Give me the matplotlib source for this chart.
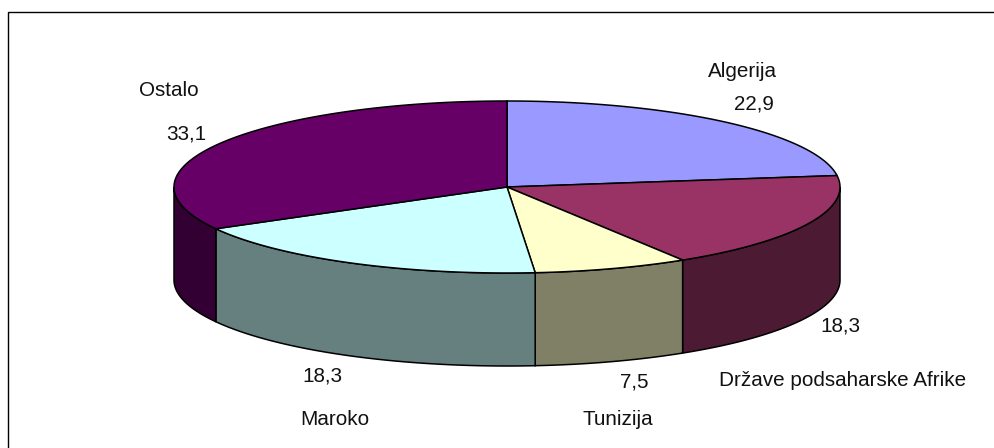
import numpy as np
import matplotlib
matplotlib.use("Agg")
import matplotlib.pyplot as plt
from matplotlib.patches import Polygon

plt.rcParams["font.family"] = ["Liberation Sans", "DejaVu Sans"]

labels = ["Algerija", "Države podsaharske Afrike", "Tunizija", "Maroko", "Ostalo"]
values = [22.9, 18.3, 7.5, 18.3, 33.1]
value_text = ["22,9", "18,3", "7,5", "18,3", "33,1"]
top_colors = ["#9999FF", "#993366", "#FFFFCC", "#CCFFFF", "#660066"]
side_colors = ["#5C5C99", "#4D1A33", "#808066", "#668080", "#330033"]

# pie geometry in image pixels
cx, cy = 507, 187
rx, ry = 333, 86
depth = 93


def rim(a0, a1, dy=0):
    # a is clockwise from 12 o'clock
    a = np.radians(np.linspace(a0, a1, 200))
    return np.column_stack([cx + rx * np.sin(a), cy - ry * np.cos(a) + dy])


fig = plt.figure(figsize=(9.94, 4.48), dpi=100)
ax = fig.add_axes([0, 0, 1, 1])
ax.set_xlim(0, 994)
ax.set_ylim(448, 0)
ax.axis("off")

# chart border is cut off by the image on the right and at the bottom
ax.plot([8, 8, 994], [448, 12.5, 12.5], color="black", lw=1.0, solid_joinstyle="miter")

edges = np.cumsum([0] + values) / sum(values) * 360

# side walls, only the front half of the rim is visible
for i in range(len(values)):
    a0 = max(edges[i], 90)
    a1 = min(edges[i + 1], 270)
    if a1 <= a0:
        continue
    front = rim(a0, a1)
    back = rim(a1, a0, depth)
    ax.add_patch(Polygon(np.vstack([front, back]), closed=True, fc=side_colors[i], ec="black", lw=1.1, zorder=2))

# top faces
for i in range(len(values)):
    pts = np.vstack([[[cx, cy]], rim(edges[i], edges[i + 1])])
    ax.add_patch(Polygon(pts, closed=True, fc=top_colors[i], ec="black", lw=1.1, zorder=3))

# label anchors: horizontal centre, baseline
name_pos = [(742, 77), (843, 386), (618, 425), (335, 425), (169, 96)]
value_pos = [(754, 109), (840, 332), (634, 388), (322, 382), (186, 139)]
for i in range(len(values)):
    ax.text(*name_pos[i], labels[i], ha="center", va="baseline", fontsize=14.9, color="#111111", zorder=4)
    ax.text(*value_pos[i], value_text[i], ha="center", va="baseline", fontsize=14.9, color="#111111", zorder=4)

fig.savefig("out.png", dpi=100, facecolor="white")
